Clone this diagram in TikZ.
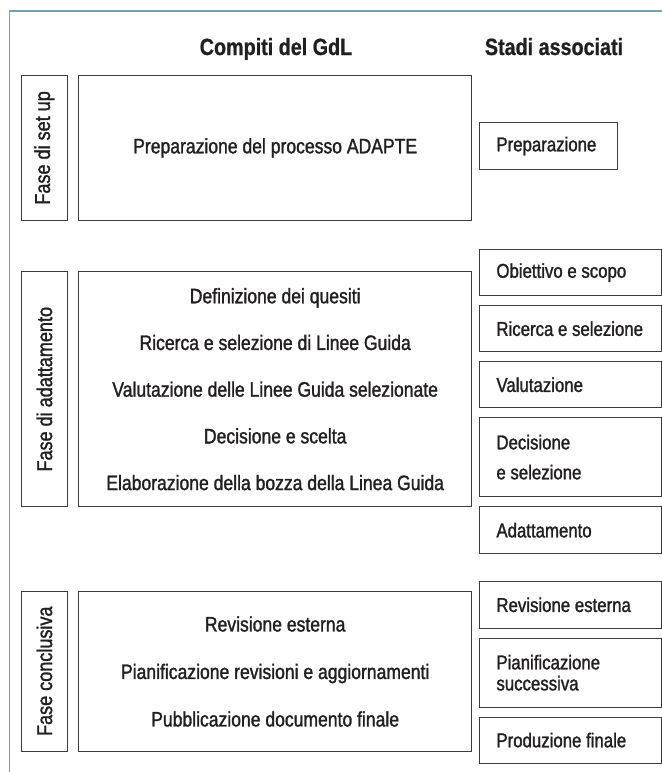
\documentclass[tikz,border=0pt]{standalone}
\usepackage{fontspec}
\setmainfont{Liberation Sans}[
  FakeStretch=0.84,
  UprightFeatures={FakeBold=1.4},
  BoldFeatures={FakeBold=0.8}
]
\usetikzlibrary{
  positioning
}
\definecolor{framecolor}{RGB}{112, 160, 180}
\definecolor{boxcolor}{RGB}{60, 60, 60}
\definecolor{labelcolor}{RGB}{35, 31, 32}
\tikzset{
blocktext/.style={
  font=\fontsize{20}{23}\selectfont,
  text=labelcolor
},
headlabel/.style={
  font=\fontsize{23.5}{27}\selectfont\bfseries,
  text=labelcolor,
  anchor=base
},
taskbox/.style={
  draw=boxcolor,
  line width=0.9pt,
  minimum width=393pt,
  align=center,
  inner sep=0pt,
  blocktext,
  font=\fontsize{20.9}{23}\selectfont
},
phasebox/.style={
  draw=boxcolor,
  line width=0.9pt,
  rotate=90,
  minimum height=46.7pt,
  inner sep=0pt,
  blocktext,
  font=\fontsize{21.5}{23}\selectfont
},
stagebox/.style={
  draw=boxcolor,
  line width=0.9pt,
  anchor=north west,
  inner xsep=16.7pt,
  inner ysep=0pt,
  text width=148.6pt,
  align=flush left,
  blocktext
}
}

\begin{document}
\begin{tikzpicture}[x=1pt, y=1pt]
  \useasboundingbox (0,0) rectangle (662,-772);

  % outer frame
  \draw[framecolor, line width=1.3pt] (662,-11) -- (9.7,-11) -- (9.7,-772);

  % Headers
  \node[headlabel] (taskshead) at (276,-55) {Compiti del GdL};
  \node[headlabel] (stagehead) at (554,-55) {Stadi associati};

  % Tasks of the group
  \node[taskbox, minimum height=145.7pt] (setuptasks) at (275.2,-147.9)
    {Preparazione del processo ADAPTE};
  \node[taskbox, minimum height=235pt,
        font=\fontsize{20.9}{46.7}\selectfont] (adapttasks) at (275.2,-389.2)
    {Definizione dei quesiti\\Ricerca e selezione di Linee Guida\\
     Valutazione delle Linee Guida selezionate\\Decisione e scelta\\
     Elaborazione della bozza della Linea Guida};
  \node[taskbox, minimum height=159.5pt,
        font=\fontsize{20.9}{47.5}\selectfont] (closetasks) at (275.2,-671.5)
    {Revisione esterna\\Pianificazione revisioni e aggiornamenti\\
     Pubblicazione documento finale};

  % Phases (rotated)
  \node[phasebox, minimum width=145.7pt] (setupphase) at (44.4,-147.9) {Fase di set up};
  \node[phasebox, minimum width=235pt] (adaptphase) at (44.4,-389.2) {Fase di adattamento};
  \node[phasebox, minimum width=160.5pt] (closephase) at (44.4,-671.2) {Fase conclusiva};

  % Associated stages
  \node[stagebox, text width=104.6pt, minimum height=46.7pt] (prep) at (479.3,-122.3) {Preparazione};

  \node[stagebox, minimum height=45.7pt] (scope) at (479.3,-249.3) {Obiettivo e scopo};
  \node[stagebox, minimum height=45.7pt, below=9.5pt of scope] (search) {Ricerca e selezione};
  \node[stagebox, minimum height=46pt, below=9.3pt of search] (assess) {Valutazione};
  \node[stagebox, minimum height=79pt, below=9pt of assess,
        font=\fontsize{20}{30}\selectfont] (decide) {Decisione\\e selezione};
  \node[stagebox, minimum height=46.7pt, below=9.3pt of decide] (adapt) {Adattamento};

  \node[stagebox, minimum height=46.7pt] (extrev) at (479.3,-581) {Revisione esterna};
  \node[stagebox, minimum height=69.3pt, below=9pt of extrev,
        font=\fontsize{20}{21}\selectfont] (plan) {Pianificazione\\successiva};
  \node[stagebox, minimum height=45.7pt, below=9pt of plan] (prod) {Produzione finale};
\end{tikzpicture}
\end{document}
